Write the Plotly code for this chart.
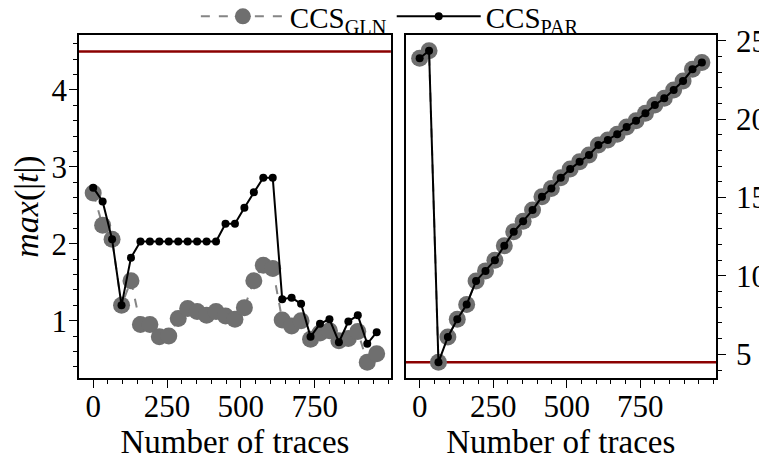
import plotly.graph_objects as go

traces_x = [i * 32 for i in range(31)]

gln_left = [2.66, 2.24, 2.06, 1.20, 1.52, 0.95, 0.95, 0.79, 0.80, 1.03,
            1.16, 1.12, 1.07, 1.12, 1.06, 1.02, 1.17, 1.52, 1.72, 1.68,
            1.01, 0.93, 1.00, 0.76, 0.84, 0.87, 0.74, 0.77, 0.86, 0.46, 0.57]
par_left = [2.73, 2.55, 2.06, 1.20, 1.82, 2.03, 2.03, 2.03, 2.03, 2.03,
            2.03, 2.03, 2.03, 2.03, 2.26, 2.26, 2.47, 2.67, 2.86, 2.86,
            1.28, 1.30, 1.22, 0.79, 0.96, 1.02, 0.72, 0.99, 1.07, 0.70, 0.85]
right_vals = [23.88, 24.36, 4.49, 6.11, 7.24, 8.18, 9.68, 10.32, 11.00, 11.92,
              12.81, 13.49, 14.20, 15.05, 15.58, 16.26, 16.81, 17.28, 17.71, 18.34,
              18.66, 19.03, 19.49, 19.89, 20.37, 20.90, 21.32, 21.85, 22.43, 23.17, 23.60]
gln_right = right_vals
par_right = right_vals
threshold = 4.5

x_ticks = [0, 250, 500, 750]
left_y_ticks = [1, 2, 3, 4]
right_y_ticks = [5, 10, 15, 20, 25]

FONT = "Liberation Serif"
FS = 31
GRAY = "#6f6f6f"

fig = go.Figure()

fig.add_trace(go.Scatter(x=traces_x, y=gln_left, mode="lines+markers",
                         name="CCS<sub>GLN</sub>",
                         line=dict(color="#858585", width=2, dash="dash"),
                         marker=dict(color=GRAY, size=17),
                         xaxis="x", yaxis="y", legendgroup="g"))
fig.add_trace(go.Scatter(x=traces_x, y=par_left, mode="lines+markers",
                         name="CCS<sub>PAR</sub>",
                         line=dict(color="black", width=2),
                         marker=dict(color="black", size=8),
                         xaxis="x", yaxis="y", legendgroup="p"))
fig.add_trace(go.Scatter(x=traces_x, y=gln_right, mode="lines+markers",
                         name="CCS<sub>GLN</sub>", showlegend=False,
                         line=dict(color="#858585", width=2, dash="dash"),
                         marker=dict(color=GRAY, size=17),
                         xaxis="x2", yaxis="y2", legendgroup="g"))
fig.add_trace(go.Scatter(x=traces_x, y=par_right, mode="lines+markers",
                         name="CCS<sub>PAR</sub>", showlegend=False,
                         line=dict(color="black", width=2),
                         marker=dict(color="black", size=8),
                         xaxis="x2", yaxis="y2", legendgroup="p"))

fig.add_shape(type="line", xref="x domain", yref="y", x0=0, x1=1,
              y0=threshold, y1=threshold, line=dict(color="#8b0000", width=2.5),
              layer="below")
fig.add_shape(type="line", xref="x2 domain", yref="y2", x0=0, x1=1,
              y0=threshold, y1=threshold, line=dict(color="#8b0000", width=2.5),
              layer="below")

common_x = dict(range=[-48, 1008], tickvals=x_ticks, ticks="outside", ticklen=8,
                tickwidth=1.3, tickcolor="black", showline=True, mirror=True,
                linecolor="black", linewidth=1.6, showgrid=False, zeroline=False,
                automargin=False,
                minor=dict(dtick=50, tick0=0, ticks="outside", ticklen=4,
                           tickwidth=1, tickcolor="black"),
                tickfont=dict(family=FONT, size=FS, color="black"),
                title=dict(text="Number of traces",
                           font=dict(family=FONT, size=33, color="black"),
                           standoff=2),
                ticklabelstandoff=-8)

common_y = dict(ticks="outside", ticklen=8, tickwidth=1.3, tickcolor="black",
                showline=True, mirror=True, linecolor="black", linewidth=1.6,
                showgrid=False, zeroline=False, automargin=False,
                tickfont=dict(family=FONT, size=FS, color="black"))

fig.update_layout(
    width=759, height=459,
    margin=dict(l=71, r=51, t=27, b=89, autoexpand=False),
    paper_bgcolor="white", plot_bgcolor="white",
    showlegend=True,
    legend=dict(orientation="h", x=0.488, xanchor="center", y=1.054, yanchor="middle",
                font=dict(family=FONT, size=29, color="black"),
                bgcolor="rgba(0,0,0,0)", itemwidth=84, tracegroupgap=0),
    xaxis=dict(domain=[0, 0.4896], anchor="y", **common_x),
    xaxis2=dict(domain=[0.5126, 1.0], anchor="y2", **common_x),
    yaxis=dict(domain=[0, 1], anchor="x", range=[0.255, 4.715],
               tickvals=left_y_ticks, ticklabelstandoff=-4,
               minor=dict(dtick=0.2, tick0=0, ticks="outside", ticklen=4,
                          tickwidth=1, tickcolor="black"),
               title=dict(text="<i>max</i>(|<i>t</i>|)",
                          font=dict(family=FONT, size=34, color="black"),
                          standoff=21),
               **common_y),
    yaxis2=dict(domain=[0, 1], anchor="x2", side="right",
                range=[3.49, 25.36], tickvals=right_y_ticks, ticklabelstandoff=4,
                minor=dict(dtick=1, tick0=0, ticks="outside", ticklen=4,
                           tickwidth=1, tickcolor="black"),
                **common_y),
)

fig.write_html("out.html")
